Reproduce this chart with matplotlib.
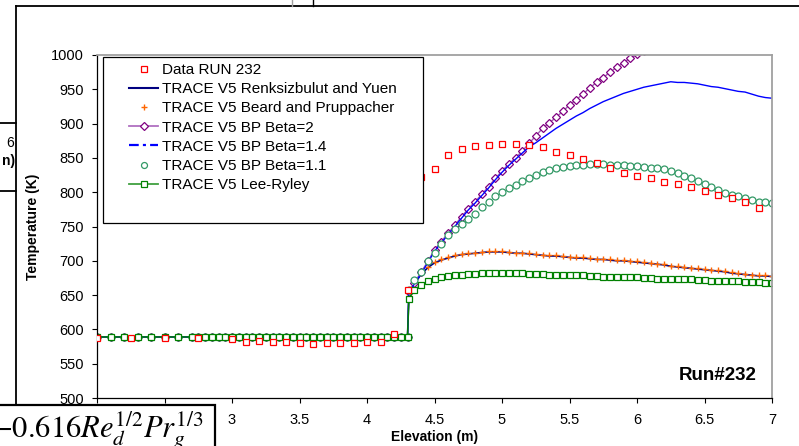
import matplotlib.pyplot as plt
from matplotlib.lines import Line2D
from matplotlib.patches import Rectangle

plt.rcParams['font.family'] = ['Liberation Sans', 'DejaVu Sans']
plt.rcParams['mathtext.fontset'] = 'stix'
plt.rcParams['lines.scale_dashes'] = False

W, H = 799, 446

# ---------- measured data, RUN 232 ----------
data_x = [2.0, 2.25, 2.5, 2.75, 3.0, 3.1, 3.2, 3.3, 3.4, 3.5, 3.6, 3.7, 3.8, 3.9,
          4.0, 4.1, 4.2, 4.3, 4.4, 4.5, 4.6, 4.7, 4.8, 4.9, 5.0, 5.1, 5.2, 5.3,
          5.4, 5.5, 5.6, 5.7, 5.8, 5.9, 6.0, 6.1, 6.2, 6.3, 6.4, 6.5, 6.6, 6.7,
          6.8, 6.9]
data_t = [587, 587, 588, 588, 586, 582, 583, 582, 582, 580, 579, 580, 580, 580,
          581, 582, 593, 657, 822, 834, 854, 863, 867, 869, 870, 870, 869, 866,
          859, 854, 848, 842, 835, 828, 824, 821, 815, 812, 808, 802, 796, 792,
          786, 777]

# ---------- TRACE nodes below the quench front (same for every model) ----------
flat_x = [2.0, 2.1, 2.2, 2.3, 2.4, 2.5, 2.6, 2.7, 2.75, 2.8, 2.85, 2.9, 2.95,
          3.0, 3.05, 3.1, 3.15, 3.2, 3.25, 3.3, 3.35, 3.4, 3.45, 3.5, 3.55,
          3.6, 3.65, 3.7, 3.75, 3.8, 3.85, 3.9, 3.95, 4.0, 4.05, 4.1, 4.15,
          4.2, 4.25, 4.3]
flat_t = [589, 589, 589, 589, 589, 589, 589, 589, 589, 589, 589, 589, 589,
          589, 589, 589, 589, 589, 589, 589, 589, 589, 589, 589, 589,
          589, 589, 589, 589, 589, 589, 589, 589, 589, 589, 589, 589,
          589, 589, 589]

# ---------- TRACE nodes above the quench front ----------
rise_x = [4.31, 4.35, 4.4, 4.45, 4.5, 4.55, 4.6, 4.65, 4.7, 4.75, 4.8, 4.85,
          4.9, 4.95, 5.0, 5.05, 5.1, 5.15, 5.2, 5.25, 5.3, 5.35, 5.4, 5.45,
          5.5, 5.55, 5.6, 5.65, 5.7, 5.75, 5.8, 5.85, 5.9, 5.95, 6.0, 6.05,
          6.1, 6.15, 6.2, 6.25, 6.3, 6.35, 6.4, 6.45, 6.5, 6.55, 6.6, 6.65,
          6.7, 6.75, 6.8, 6.85, 6.9, 6.95, 7.0]

ry_t = [647, 666, 680, 690, 697, 701, 704, 707, 709, 710, 711, 712, 713, 713,
        713, 712, 711, 711, 710, 709, 708, 707, 707, 706, 705, 704, 704, 703,
        702, 702, 701, 700, 700, 699, 698, 697, 696, 695, 694, 692, 691, 690,
        689, 688, 687, 686, 685, 684, 682, 681, 680, 679, 678, 678, 677]
bp_t = [648, 668, 682, 691, 698, 702, 705, 708, 710, 711, 712, 713, 714, 714,
        714, 713, 712, 712, 711, 710, 709, 708, 708, 707, 706, 705, 705, 704,
        703, 703, 702, 701, 701, 700, 699, 698, 697, 696, 695, 693, 692, 691,
        690, 689, 688, 687, 686, 685, 683, 682, 681, 680, 679, 679, 678]
beta2_t = [655, 668, 683, 699, 716, 728, 740, 752, 764, 776, 786, 797, 808,
           820, 831, 841, 850, 860, 871, 882, 893, 901, 909, 918, 927, 935,
           943, 952, 960, 967, 975, 982, 989, 995, 1001, 1006, 1012]
beta14_t = [653, 666, 681, 697, 714, 726, 738, 750, 762, 774, 784, 795, 806,
            818, 829, 839, 848, 857, 866, 872, 879, 886, 893, 899, 905, 911,
            916, 922, 927, 932, 936, 940, 944, 947, 950, 953, 955, 957, 959,
            961, 960, 960, 959, 958, 956, 954, 953, 951, 949, 947, 946, 943,
            940, 938, 937]
beta11_t = [657, 672, 684, 699, 712, 725, 737, 747, 754, 761, 768, 778, 786,
            794, 800, 806, 811, 816, 821, 825, 829, 832, 835, 837, 838, 839,
            840, 841, 841, 841, 840, 840, 839, 838, 838, 837, 836, 835, 834,
            831, 828, 824, 820, 816, 812, 807, 803, 799, 796, 794, 792, 789,
            786, 785, 784]
lr_t = [645, 657, 665, 670, 673, 676, 678, 679, 680, 681, 681, 682, 682, 682,
        682, 682, 682, 682, 681, 681, 681, 680, 680, 680, 679, 679, 679, 678,
        678, 677, 677, 677, 676, 676, 676, 675, 675, 674, 674, 674, 673, 673,
        673, 672, 672, 671, 671, 670, 670, 670, 669, 669, 669, 668, 668]

labels = ["Data RUN 232", "TRACE V5 Renksizbulut and Yuen",
          "TRACE V5 Beard and Pruppacher", "TRACE V5 BP Beta=2",
          "TRACE V5 BP Beta=1.4", "TRACE V5 BP Beta=1.1", "TRACE V5 Lee-Ryley"]
x_ticks = [2, 2.5, 3, 3.5, 4, 4.5, 5, 5.5, 6, 6.5, 7]
# "2" and "2.5" sit under the formula box on the sheet, so they do not show
x_tick_labels = ["", "", "3", "3.5", "4", "4.5", "5", "5.5", "6", "6.5", "7"]
y_ticks = [500, 550, 600, 650, 700, 750, 800, 850, 900, 950, 1000]


def trace(rise):
    return flat_x + rise_x[:len(rise)], flat_t + rise


def px(x, y):
    # pixel position -> figure fraction
    return x / W, 1 - y / H


fig = plt.figure(figsize=(W / 100, H / 100), dpi=100)
ax = fig.add_axes([97 / W, 1 - 398 / H, 675 / W, 343 / H])

RED = "#FF0000"
NAVY = "#000080"
ORANGE = "#FF6600"
PURPLE = "#800080"
BLUE = "#0000FF"
SEA = "#339966"
GREEN = "#008000"

x, t = trace(ry_t)
ax.plot(x, t, color=NAVY, lw=1.2, zorder=2)
x, t = trace(bp_t)
ax.plot(x, t, ls="none", marker="+", ms=5, mew=1.0, color=ORANGE, zorder=2)
x, t = trace(beta2_t)
ax.plot(x, t, color="#A060B0", lw=1.0, marker="D", ms=4.2, mfc="white",
        mec=PURPLE, mew=0.9, zorder=2)
x, t = trace(beta14_t)
ax.plot(x, t, color=BLUE, lw=1.0, zorder=2)
x, t = trace(beta11_t)
ax.plot(x, t, ls="none", marker="o", ms=5, mfc="white", mec=SEA, mew=0.9,
        zorder=2)
x, t = trace(lr_t)
ax.plot(x, t, color=GREEN, lw=1.1, marker="s", ms=4.6, mfc="white",
        mec=GREEN, mew=0.9, zorder=2)
ax.plot(data_x, data_t, ls="none", marker="s", ms=4.8, mfc="white", mec=RED,
        mew=0.9, zorder=3)

ax.set_xlim(2, 7)
ax.set_ylim(500, 1000)
ax.set_xticks(x_ticks)
ax.set_xticklabels(x_tick_labels)
ax.set_yticks(y_ticks)
ax.tick_params(direction="out", length=3.6, width=0.8, labelsize=10.5,
               colors="black")
ax.tick_params(axis="y", pad=6)
ax.tick_params(axis="x", pad=7)
for side in ("left", "bottom"):
    ax.spines[side].set_color("black")
    ax.spines[side].set_linewidth(0.9)
for side in ("top", "right"):
    ax.spines[side].set_color("#A0A0A0")
    ax.spines[side].set_linewidth(1.3)

# legend frame is drawn separately (Excel style padding)
ax.add_patch(Rectangle(((103 - 97) / 675, (398 - 223) / 343), 320 / 675,
                       166 / 343, transform=ax.transAxes, facecolor="white",
                       edgecolor="black", lw=0.9, zorder=4.5))

handles = [
    Line2D([], [], ls="none", marker="s", ms=4.3, mfc="white", mec=RED, mew=0.9),
    Line2D([], [], color=NAVY, lw=1.5),
    Line2D([], [], ls="none", marker="+", ms=5, mew=1.0, color=ORANGE),
    Line2D([], [], color="#B070C0", lw=1.3, marker="D", ms=4, mfc="white",
           mec=PURPLE, mew=0.9),
    Line2D([], [], color=BLUE, lw=1.6, ls=(0, (7, 3, 2.2, 3))),
    Line2D([], [], ls="none", marker="o", ms=4.3, mfc="white", mec=SEA, mew=0.9),
    Line2D([], [], color="#40A040", lw=1.3, marker="s", ms=4.3, mfc="white",
           mec=GREEN, mew=0.9),
]
leg = ax.legend(handles, labels, loc="upper left",
                bbox_to_anchor=px(129, 63), bbox_transform=fig.transFigure,
                frameon=False, fontsize=11, handlelength=1.9,
                handletextpad=0.26, labelspacing=0.34, borderpad=0,
                borderaxespad=0, numpoints=1)
leg.set_zorder(6)

ax.text((718 - 97) / 675, (398 - 375) / 343, "Run#232", transform=ax.transAxes,
        ha="center", va="center", fontsize=13.5, fontweight="bold", zorder=6)

fig.text(*px(434.5, 437), "Elevation (m)", ha="center", va="center",
         fontsize=10, fontweight="bold")
fig.text(*px(33, 227), "Temperature (K)", ha="center", va="center",
         rotation=90, fontsize=10, fontweight="bold")

# ---------- pieces of the neighbouring objects on the sheet ----------
def fig_line(xs, ys, color="black", lw=1.3, z=10):
    fx = [v / W for v in xs]
    fy = [1 - v / H for v in ys]
    fig.add_artist(Line2D(fx, fy, color=color, lw=lw, zorder=z))

fig_line([16, 16], [6, 406])
fig_line([16, W], [6, 6])
fig_line([292, 292], [0, 6], color="#A0A0A0", lw=1.0)
fig_line([313, 313], [0, 6], lw=1.0)
fig_line([0, 16], [123, 123])
fig_line([0, 16], [191, 191])
fig.text(*px(14, 143), "6", ha="right", va="center", fontsize=10)
fig.text(*px(15, 161), "n)", ha="right", va="center", fontsize=10,
         fontweight="bold")

fig.add_artist(Rectangle(px(-10, 460), 225 / W, 55 / H,
                         transform=fig.transFigure, facecolor="white",
                         edgecolor="black", lw=1.6, zorder=11))
fig.text(*px(204, 438), r"$-0.616Re_d^{1/2}Pr_g^{1/3}$", ha="right",
         va="baseline", fontsize=22, zorder=12)

fig.savefig("out.png", dpi=100)
